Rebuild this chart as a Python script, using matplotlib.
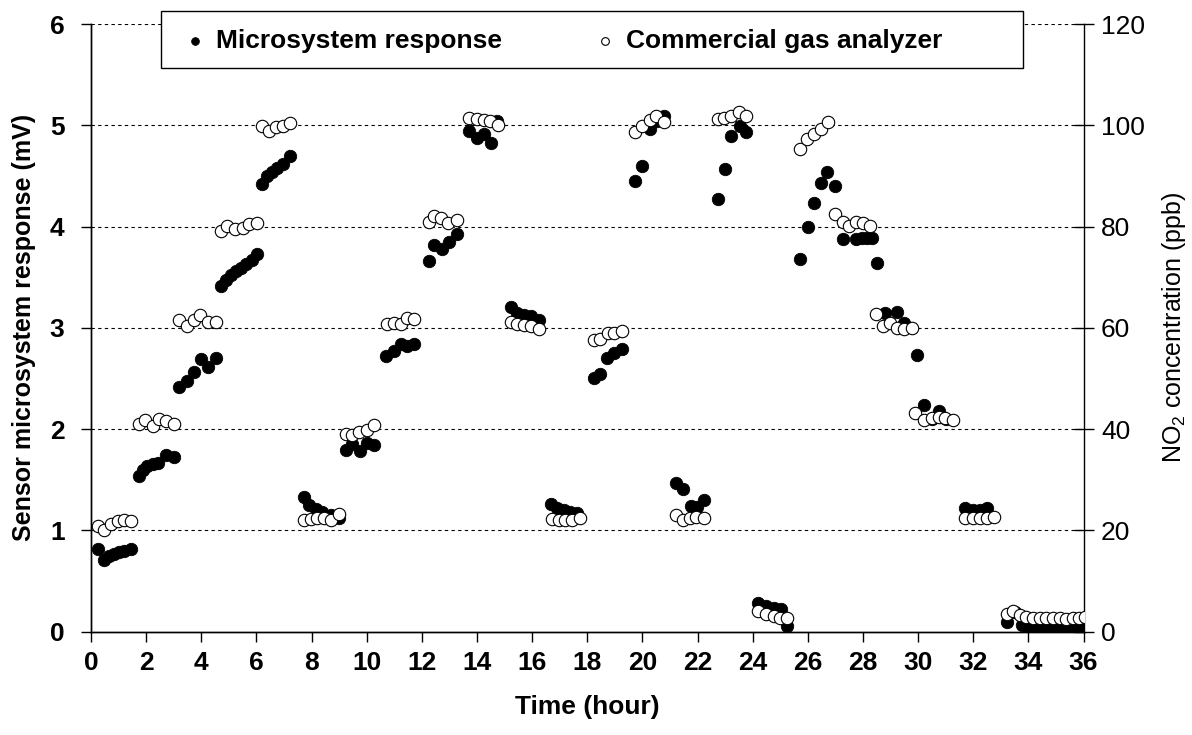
import matplotlib
matplotlib.use("Agg")
import matplotlib.pyplot as plt
from matplotlib.patches import Rectangle

plt.rcParams['font.family'] = ['Liberation Sans', 'DejaVu Sans']
plt.rcParams['mathtext.fontset'] = 'custom'
plt.rcParams['mathtext.rm'] = 'Liberation Sans'
plt.rcParams['mathtext.it'] = 'Liberation Sans:italic'
plt.rcParams['mathtext.bf'] = 'Liberation Sans:bold'

# Microsystem response (mV)
t_micro = [0.24, 0.46, 0.66, 0.84, 1.03, 1.21, 1.45,
           1.75, 1.87, 2.05, 2.24, 2.42, 2.72, 3.02,
           3.20, 3.48, 3.74, 3.99, 4.23, 4.53,
           4.71, 4.90, 5.08, 5.27, 5.45, 5.64, 5.83, 6.04,
           6.22, 6.40, 6.58, 6.76, 6.95, 7.22,
           7.71, 7.91, 8.15, 8.39, 8.70, 9.00,
           9.24, 9.48, 9.76, 10.00, 10.26,
           10.69, 10.99, 11.23, 11.47, 11.71,
           12.26, 12.44, 12.74, 12.98, 13.26,
           13.71, 14.01, 14.25, 14.52, 14.74,
           15.22, 15.46, 15.70, 15.97, 16.24,
           16.67, 16.91, 17.15, 17.39, 17.63,
           18.24, 18.48, 18.72, 18.96, 19.26,
           19.75, 19.99, 20.26, 20.53, 20.77,
           21.23, 21.47, 21.76, 21.98, 22.22,
           22.76, 23.00, 23.21, 23.53, 23.77,
           24.21, 24.49, 24.76, 25.03, 25.24,
           25.72, 25.99, 26.21, 26.47, 26.71, 26.99,
           27.27, 27.75, 27.96, 28.14, 28.32, 28.50,
           28.80, 29.23, 29.49, 29.95,
           30.22, 30.50, 30.74, 31.00,
           31.70, 32.00, 32.25, 32.51,
           33.21, 33.51, 33.76, 34.00, 34.24, 34.48, 34.72, 34.96,
           35.20, 35.44, 35.68, 35.92]
v_micro = [0.815, 0.71, 0.75, 0.77, 0.785, 0.80, 0.815,
           1.533, 1.60, 1.632, 1.659, 1.666, 1.748, 1.725,
           2.42, 2.48, 2.56, 2.69, 2.61, 2.70,
           3.41, 3.47, 3.52, 3.56, 3.59, 3.63, 3.67, 3.73,
           4.42, 4.50, 4.54, 4.58, 4.62, 4.70,
           1.33, 1.25, 1.21, 1.18, 1.15, 1.12,
           1.79, 1.85, 1.78, 1.86, 1.84,
           2.72, 2.77, 2.84, 2.82, 2.84,
           3.66, 3.815, 3.775, 3.85, 3.93,
           4.946, 4.87, 4.913, 4.824, 5.045,
           3.21, 3.15, 3.13, 3.12, 3.08,
           1.263, 1.22, 1.204, 1.187, 1.171,
           2.506, 2.54, 2.704, 2.754, 2.793,
           4.45, 4.60, 4.96, 5.04, 5.09,
           1.468, 1.408, 1.243, 1.23, 1.296,
           4.27, 4.567, 4.896, 4.995, 4.936,
           0.281, 0.254, 0.231, 0.222, 0.056,
           3.68, 4.00, 4.23, 4.43, 4.544, 4.40,
           3.88, 3.88, 3.89, 3.89, 3.89, 3.64,
           3.149, 3.155, 3.05, 2.737,
           2.24, 2.10, 2.18, 2.10,
           1.22, 1.204, 1.197, 1.22,
           0.10, 0.19, 0.07, 0.05, 0.05, 0.04, 0.05, 0.04,
           0.03, 0.05, 0.03, 0.04]

# Commercial gas analyzer (ppb)
t_ref = [0.24, 0.46, 0.72, 0.97, 1.21, 1.45,
         1.75, 1.97, 2.24, 2.45, 2.72, 3.00,
         3.20, 3.48, 3.72, 3.96, 4.23, 4.53,
         4.71, 4.95, 5.22, 5.50, 5.74, 6.01,
         6.22, 6.46, 6.70, 6.95, 7.22,
         7.71, 7.97, 8.21, 8.45, 8.72, 9.00,
         9.24, 9.48, 9.72, 10.00, 10.26,
         10.75, 10.99, 11.23, 11.47, 11.71,
         12.26, 12.44, 12.71, 12.96, 13.26,
         13.71, 13.99, 14.25, 14.49, 14.76,
         15.22, 15.46, 15.70, 15.97, 16.24,
         16.73, 16.97, 17.21, 17.45, 17.73,
         18.26, 18.48, 18.74, 18.98, 19.26,
         19.75, 19.99, 20.26, 20.50, 20.77,
         21.23, 21.47, 21.71, 21.96, 22.22,
         22.73, 22.97, 23.21, 23.49, 23.77,
         24.21, 24.49, 24.76, 25.00, 25.24,
         25.72, 25.96, 26.21, 26.47, 26.75,
         26.99, 27.27, 27.51, 27.75, 27.99, 28.26,
         28.48, 28.72, 28.99, 29.25, 29.49, 29.77,
         29.89, 30.22, 30.50, 30.74, 30.98, 31.26,
         31.70, 31.98, 32.25, 32.51, 32.75,
         33.21, 33.45, 33.69, 33.93, 34.17, 34.41, 34.65, 34.89,
         35.13, 35.37, 35.61, 35.85, 36.05]
c_ref = [20.9, 20.1, 21.3, 21.8, 22.0, 21.8,
         41.1, 41.9, 40.7, 42.1, 41.7, 41.1,
         61.5, 60.3, 61.5, 62.5, 61.1, 61.1,
         79.1, 80.1, 79.5, 79.8, 80.5, 80.7,
         99.9, 98.9, 99.6, 99.9, 100.4,
         22.1, 22.2, 22.4, 22.4, 22.1, 23.3,
         39.1, 38.9, 39.4, 39.9, 40.9,
         60.7, 61.0, 60.7, 62.0, 61.8,
         80.9, 82.1, 81.6, 80.7, 81.4,
         101.4, 101.2, 101.0, 100.9, 100.1,
         61.1, 60.7, 60.5, 60.3, 59.8,
         22.2, 22.0, 22.1, 22.0, 22.4,
         57.7, 57.8, 58.9, 59.0, 59.3,
         98.7, 99.9, 101.1, 101.9, 100.6,
         23.1, 22.0, 22.4, 22.6, 22.4,
         101.2, 101.4, 101.9, 102.7, 101.9,
         4.0, 3.5, 3.1, 2.7, 2.7,
         95.3, 97.3, 98.3, 99.3, 100.7,
         82.4, 80.9, 80.1, 80.9, 80.7, 80.1,
         62.7, 60.3, 61.0, 60.0, 59.8, 60.0,
         43.2, 41.9, 42.2, 42.5, 42.2, 41.9,
         22.4, 22.4, 22.4, 22.4, 22.6,
         3.6, 4.0, 3.3, 3.0, 2.8, 2.8, 2.7, 2.7,
         2.8, 2.6, 2.7, 2.8, 2.9]

x_ticks = list(range(0, 37, 2))

fig = plt.figure(figsize=(11.92, 7.35), dpi=100)
ax = fig.add_axes([0.0763, 0.1405, 0.8327, 0.8268])
ax2 = ax.twinx()

# dashed grid
for yv in range(1, 7):
    ax.axhline(yv, color='black', lw=0.8, ls=(0, (3, 3)), zorder=1)

h1 = ax.scatter(t_micro, v_micro, s=80, c='black', edgecolors='black',
                linewidths=0.6, zorder=3, label='Microsystem response')
h2 = ax2.scatter(t_ref, c_ref, s=80, facecolors='white', edgecolors='black',
                 linewidths=0.8, zorder=3, label='Commercial gas analyzer')

ax.set_xlim(0, 36)
ax.set_ylim(0, 6)
ax2.set_ylim(0, 120)
ax.set_xticks(x_ticks)
ax.set_yticks(range(0, 7))
ax2.set_yticks(range(0, 121, 20))

for a in (ax, ax2):
    a.spines['top'].set_visible(False)
    for s in a.spines.values():
        s.set_linewidth(1.0)
ax.spines['right'].set_visible(False)

ax.tick_params(axis='x', direction='out', length=7, width=1.0, pad=7,
               labelsize=19)
ax.tick_params(axis='y', direction='out', length=7, width=1.0, pad=12,
               labelsize=19)
for lbl in ax.get_xticklabels() + ax.get_yticklabels():
    lbl.set_fontweight('bold')
ax2.tick_params(axis='y', direction='inout', length=15, width=1.0, pad=5,
                labelsize=19)

ax.set_xlabel('Time (hour)', fontsize=19, fontweight='bold', labelpad=14)
ax.set_ylabel('Sensor microsystem response (mV)', fontsize=18,
              fontweight='bold', labelpad=10)
ax2.set_ylabel('NO$_2$ concentration (ppb)', fontsize=18, labelpad=11)

# legend box
box = Rectangle((0.0705, 0.928), 0.869, 0.094, transform=ax2.transAxes,
                facecolor='white', edgecolor='black', lw=1.0,
                clip_on=False, zorder=9)
ax2.add_patch(box)
leg = ax2.legend(handles=[h1, h2], loc='center left',
                 bbox_to_anchor=(0.089, 0.972), ncol=2, frameon=False,
                 borderaxespad=0, borderpad=0, markerscale=0.62,
                 handletextpad=0.2, handlelength=1.2, columnspacing=3.3,
                 prop={'size': 19, 'weight': 'bold'})
leg.set_zorder(10)

fig.savefig('out.png', dpi=100)
